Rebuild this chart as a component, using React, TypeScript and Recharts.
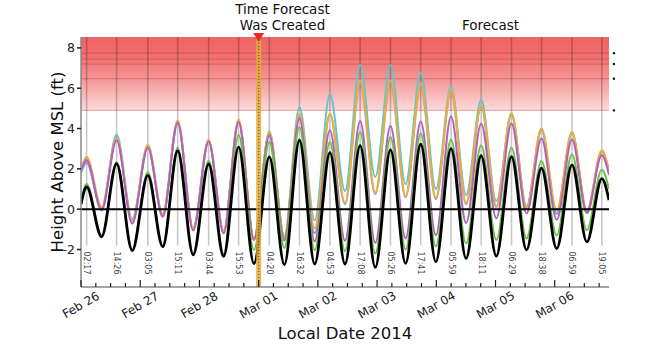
import React from "react";
import {
  ComposedChart,
  Line,
  XAxis,
  YAxis,
  ReferenceLine,
  ReferenceArea,
  ReferenceDot,
  Label,
} from "recharts";

const FONT = "'DejaVu Sans', sans-serif";

// hours since Feb 26 00:00 local: start, then high / low alternating, then end
const timesHr = [
  0, 2.28, 8.36, 14.43, 20.76, 27.08, 33.13, 39.18, 45.46, 51.73, 57.81, 63.88,
  70.11, 76.33, 82.43, 88.53, 94.71, 100.88, 107.0, 113.13, 119.28, 125.43,
  131.56, 137.68, 143.83, 149.98, 156.08, 162.18, 168.33, 174.48, 180.56,
  186.63, 192.81, 198.98, 205.03, 211.08, 214,
];

const blackTide = [
  0.25, 1.1, -1.37, 2.26, -2.06, 1.68, -1.86, 2.89, -2.27, 2.24, -2.34, 3.08,
  -2.7, 2.59, -2.75, 3.42, -2.72, 2.8, -2.72, 3.15, -2.89, 2.94, -2.69, 3.22,
  -2.61, 3.0, -2.44, 2.65, -2.33, 2.6, -2.02, 2.03, -1.95, 2.2, -1.62, 1.52, 0.45,
];
const greenTide = [
  0.35, 1.25, -1.3, 2.34, -2.0, 1.85, -1.8, 3.05, -2.2, 2.42, -2.22, 3.68,
  -2.03, 3.33, -1.92, 4.06, -2.03, 3.33, -2.08, 3.83, -2.2, 3.58, -2.0, 3.75,
  -1.85, 3.45, -1.7, 3.17, -1.53, 3.05, -1.45, 2.39, -1.3, 2.71, -1.05, 1.96, 1.0,
];
const purpleTide = [
  1.9, 2.43, -0.05, 3.42, -0.72, 3.05, -0.38, 4.29, -1.06, 3.36, -1.2, 4.32,
  -1.53, 3.66, -1.55, 4.5, -1.6, 3.91, -1.57, 4.37, -1.67, 4.13, -1.45, 4.35,
  -1.29, 4.6, -0.68, 4.24, -0.45, 4.25, -0.21, 3.5, -0.53, 3.45, -0.18, 2.67, 1.7,
];
const orangeTide = [
  2.0, 2.6, 0.1, 3.53, -0.6, 3.2, -0.25, 4.41, -0.98, 3.45, -1.1, 4.45, -1.45,
  3.83, -1.4, 4.74, -0.96, 4.74, 0.3, 6.39, 0.82, 6.39, 0.65, 6.22, 0.55, 5.95,
  0.3, 5.15, 0.15, 4.77, 0.05, 4.0, -0.05, 3.83, -0.05, 2.92, 1.9,
];
const cyanTide = [
  1.85, 2.5, 0.0, 3.7, -0.5, 3.15, -0.3, 4.35, -0.95, 3.4, -1.08, 4.4, -1.45,
  3.85, -1.35, 5.07, -0.56, 5.71, 0.9, 7.15, 1.6, 7.15, 1.25, 6.75, 1.0, 6.1,
  0.7, 5.43, 0.4, 4.7, 0.15, 3.95, -0.2, 3.78, -0.15, 2.85, 1.85,
];
const blueTide = [
  1.8, 2.3, -0.05, 3.6, -0.6, 3.1, -0.35, 4.3, -1.0, 3.38, -1.12, 4.35, -1.5,
  3.75, -1.45, 4.6, -1.2, 4.7, 0.25, 6.3, 0.75, 6.3, 0.6, 6.15, 0.5, 5.9, 0.25,
  5.1, 0.1, 4.72, 0.0, 3.95, -0.25, 3.8, -0.2, 2.88, 1.8,
];

const highTideHours = [
  2.28, 14.43, 27.08, 39.18, 51.73, 63.88, 76.33, 88.53, 100.88, 113.13,
  125.43, 137.68, 149.98, 162.18, 174.48, 186.63, 198.98, 211.08,
];
const highTideLabels = [
  "02:17", "14:26", "03:05", "15:11", "03:44", "15:53", "04:20", "16:32",
  "04:53", "17:08", "05:26", "17:41", "05:59", "18:11", "06:29", "18:38",
  "06:59", "19:05",
];

const dayLabels = [
  "Feb 26", "Feb 27", "Feb 28", "Mar 01", "Mar 02", "Mar 03", "Mar 04",
  "Mar 05", "Mar 06",
];
const quarterDayTicks = [
  0, 6, 12, 18, 24, 30, 36, 42, 48, 54, 60, 66, 72, 78, 84, 90, 96, 102, 108,
  114, 120, 126, 132, 138, 144, 150, 156, 162, 168, 174, 180, 186, 192, 198,
  204, 210,
];
const yTicks = [-2, 0, 2, 4, 6, 8];

const floodLines = [7.74, 7.45, 7.2, 6.47];
const floodDots = [7.74, 7.2, 6.47, 4.9];
const floodBase = 4.9;
const forecastHour = 72;

const X_MAX = 214;
const Y_MIN = -3.86;
const Y_MAX = 8.54;

const rows = timesHr.map((t, i) => ({
  t,
  black: blackTide[i],
  green: greenTide[i],
  purple: purpleTide[i],
  orange: orangeTide[i],
  cyan: cyanTide[i],
  blue: blueTide[i],
}));

const BottomTick = (props: any) => {
  const { x, y, payload } = props;
  const v = payload.value;
  const major = v % 24 === 0;
  const ly = y + 18;
  return (
    <g>
      <line x1={x} x2={x} y1={y} y2={y - (major ? 7 : 4)} stroke="#222" strokeWidth={1.2} />
      {major && (
        <text
          x={x}
          y={ly}
          transform={`rotate(-30, ${x}, ${ly})`}
          textAnchor="middle"
          dominantBaseline="central"
          fontSize={12}
          fontFamily={FONT}
          fill="#222"
        >
          {dayLabels[v / 24]}
        </text>
      )}
    </g>
  );
};

const TopTick = (props: any) => {
  const { x, y, payload } = props;
  const major = payload.value % 24 === 0;
  return <line x1={x} x2={x} y1={y} y2={y + (major ? 6 : 3)} stroke="#222" strokeWidth={1.2} />;
};

const RightTick = (props: any) => {
  const { x, y } = props;
  return <line x1={x} x2={x - 4} y1={y} y2={y} stroke="#444" strokeWidth={1} />;
};

const YTitle = (p: any) => {
  const { viewBox } = p;
  const cx = viewBox.x + 57;
  const cy = viewBox.y + viewBox.height / 2;
  return (
    <text
      x={cx}
      y={cy}
      transform={`rotate(-90, ${cx}, ${cy})`}
      textAnchor="middle"
      dominantBaseline="central"
      fontSize={16.5}
      fontFamily={FONT}
      fill="#111"
    >
      Height Above MSL (ft)
    </text>
  );
};

const XTitle = (p: any) => {
  const { viewBox } = p;
  return (
    <text
      x={viewBox.x + viewBox.width / 2}
      y={viewBox.y + 52}
      textAnchor="middle"
      fontSize={16.5}
      fontFamily={FONT}
      fill="#111"
    >
      Local Date 2014
    </text>
  );
};

const tideLabel = (text: string) => (p: any) => {
  const { viewBox } = p;
  const x = viewBox.x;
  const y = viewBox.y + viewBox.height + 6;
  return (
    <text
      x={x}
      y={y}
      transform={`rotate(90, ${x}, ${y})`}
      textAnchor="start"
      dominantBaseline="central"
      fontSize={8}
      fontFamily={FONT}
      fill="#444"
    >
      {text}
    </text>
  );
};

const Triangle = (p: any) => {
  const { cx, cy } = p;
  return <path d={`M${cx - 5.5},${cy - 4} L${cx + 5.5},${cy - 4} L${cx},${cy + 5} Z`} fill="#e32b2b" />;
};

export default function App() {
  return (
    <div style={{ position: "absolute", left: 0, top: 0, width: 672, height: 350, background: "#fff" }}>
      <ComposedChart
        width={672}
        height={350}
        data={rows}
        margin={{ top: 37, right: 63, bottom: 0, left: 0 }}
        style={{ fontFamily: FONT }}
      >
        <defs>
          <linearGradient id="floodFill" x1="0" y1="0" x2="0" y2="1">
            <stop offset="0" stopColor="#ef6464" />
            <stop offset="0.22" stopColor="#f06c6c" />
            <stop offset="0.37" stopColor="#f27c7c" />
            <stop offset="0.57" stopColor="#f49696" />
            <stop offset="0.8" stopColor="#f8baba" />
            <stop offset="1" stopColor="#fcdcdc" />
          </linearGradient>
        </defs>
        <XAxis
          dataKey="t"
          type="number"
          domain={[0, X_MAX]}
          allowDataOverflow
          ticks={quarterDayTicks}
          interval={0}
          tickSize={0}
          tickMargin={0}
          tick={(p: any) => <BottomTick {...p} />}
          height={63}
          stroke="#888"
          strokeWidth={1.5}
        >
          <Label content={XTitle} />
        </XAxis>
        <XAxis
          xAxisId="top"
          orientation="top"
          type="number"
          domain={[0, X_MAX]}
          allowDataOverflow
          ticks={quarterDayTicks}
          interval={0}
          tickSize={0}
          tickMargin={0}
          tick={(p: any) => <TopTick {...p} />}
          height={0}
          stroke="#333"
          strokeWidth={1.5}
        />
        <YAxis
          type="number"
          domain={[Y_MIN, Y_MAX]}
          allowDataOverflow
          ticks={yTicks}
          interval={0}
          width={81}
          tickSize={4}
          tickMargin={2}
          tick={{ fontSize: 12.5, fill: "#222", fontFamily: FONT }}
          tickLine={{ stroke: "#222" }}
          stroke="#888"
          strokeWidth={1.5}
        >
          <Label content={YTitle} />
        </YAxis>
        <YAxis
          yAxisId="right"
          orientation="right"
          type="number"
          domain={[Y_MIN, Y_MAX]}
          allowDataOverflow
          ticks={yTicks}
          interval={0}
          width={0}
          tickSize={0}
          tickMargin={0}
          tick={(p: any) => <RightTick {...p} />}
          stroke="#444"
          strokeWidth={1.5}
        />

        <ReferenceArea
          x1={0}
          x2={X_MAX}
          y1={floodBase}
          y2={Y_MAX}
          fill="url(#floodFill)"
          fillOpacity={1}
          stroke="none"
          ifOverflow="hidden"
        />
        {floodLines.map((v) => (
          <ReferenceLine key={v} y={v} stroke="#b83c3c" strokeOpacity={0.45} strokeWidth={1} />
        ))}
        <ReferenceLine y={floodBase} stroke="#f0a8a8" strokeWidth={1.2} />
        {floodDots.map((v) => (
          <ReferenceDot key={v} x={216} y={v} r={1.2} fill="#111" stroke="none" ifOverflow="visible" />
        ))}

        {highTideHours.map((h, i) => (
          <ReferenceLine
            key={h}
            segment={[
              { x: h, y: -1.8 },
              { x: h, y: Y_MAX },
            ]}
            stroke="#000"
            strokeOpacity={0.22}
            strokeWidth={1.6}
            label={tideLabel(highTideLabels[i])}
          />
        ))}

        <Line type="monotone" dataKey="blue" stroke="#7da4de" strokeWidth={2} dot={false} isAnimationActive={false} />
        <Line type="monotone" dataKey="cyan" stroke="#62c6cc" strokeWidth={2} dot={false} isAnimationActive={false} />
        <Line type="monotone" dataKey="orange" stroke="#f2ac38" strokeWidth={2} dot={false} isAnimationActive={false} />
        <Line type="monotone" dataKey="purple" stroke="#b25fc0" strokeWidth={2} dot={false} isAnimationActive={false} />
        <Line type="monotone" dataKey="green" stroke="#6cc04a" strokeWidth={2} dot={false} isAnimationActive={false} />
        <Line type="monotone" dataKey="black" stroke="#000" strokeWidth={2.8} dot={false} isAnimationActive={false} />

        <ReferenceLine y={0} stroke="#000" strokeWidth={2} />
        <ReferenceLine x={forecastHour} stroke="#d8b035" strokeOpacity={0.85} strokeWidth={5} />
        <ReferenceLine x={forecastHour} stroke="#d62828" strokeWidth={1.2} strokeDasharray="1 2" />
        <ReferenceDot x={forecastHour} y={Y_MAX} r={5} shape={Triangle} ifOverflow="visible" />
      </ComposedChart>
      <svg
        width={672}
        height={350}
        style={{ position: "absolute", left: 0, top: 0, pointerEvents: "none" }}
      >
        <g fontFamily={FONT} fontSize={13.5} fill="#111" textAnchor="middle">
          <text x={282.5} y={14}>Time Forecast</text>
          <text x={282.5} y={29.5}>Was Created</text>
          <text x={490.5} y={29.5}>Forecast</text>
        </g>
      </svg>
    </div>
  );
}
